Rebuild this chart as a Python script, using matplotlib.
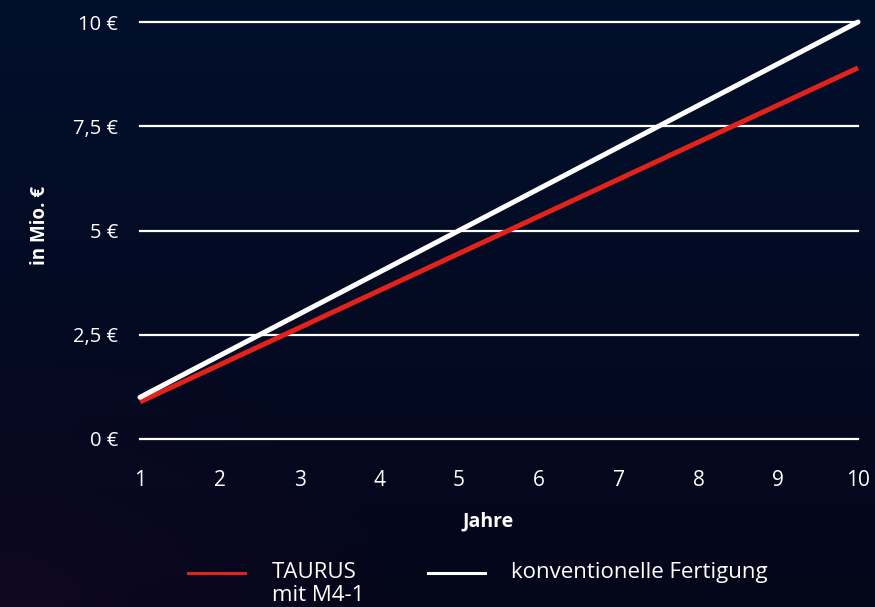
import numpy as np
import matplotlib
matplotlib.use("Agg")
import matplotlib.pyplot as plt
from matplotlib.lines import Line2D

years = [1, 2, 3, 4, 5, 6, 7, 8, 9, 10]
taurus = [0.89, 1.78, 2.67, 3.56, 4.45, 5.34, 6.23, 7.12, 8.01, 8.90]
konventionell = [1, 2, 3, 4, 5, 6, 7, 8, 9, 10]
yticks = [0, 2.5, 5, 7.5, 10]
ytick_labels = ["0 €", "2,5 €", "5 €", "7,5 €", "10 €"]
series_names = ["TAURUS\nmit M4-1", "konventionelle Fertigung"]

plt.rcParams['font.family'] = ['Open Sans', 'DejaVu Sans']

W, H = 875, 607
fig = plt.figure(figsize=(8.75, 6.07), dpi=100)

# background gradient
bg = fig.add_axes([0, 0, 1, 1], zorder=-10)
h, w = 200, 200
yy, xx = np.mgrid[0:1:h*1j, 0:1:w*1j]
top = np.array([2, 16, 44]) / 255
bot = np.array([5, 6, 26]) / 255
img = top[None, None, :] * (1 - yy[..., None]) + bot[None, None, :] * yy[..., None]
purple = np.array([22, 8, 40]) / 255
d = np.clip(1 - np.sqrt((xx) ** 2 + (1 - yy) ** 2) / 0.45, 0, 1)
img = img * (1 - d[..., None] * 0.6) + purple[None, None, :] * d[..., None] * 0.6
bg.imshow(img, aspect='auto', extent=[0, 1, 0, 1], origin='upper')
bg.axis('off')

ax = fig.add_axes([140/W, 1-439/H, 718/W, 417/H])
ax.set_facecolor('none')
ax.set_xlim(1, 10)
ax.set_ylim(0, 10)
for y in yticks:
    ax.axhline(y, color='white', lw=1.6, zorder=1, clip_on=False)
ax.plot(years, taurus, color='#e3221c', lw=3.6, solid_capstyle='butt', zorder=3, clip_on=False)
ax.plot(years, konventionell, color='white', lw=3.6, solid_capstyle='round', zorder=4, clip_on=False)

for s in ax.spines.values():
    s.set_visible(False)
ax.set_xticks(years)
ax.set_xticklabels([str(y) for y in years])
ax.set_yticks(yticks)
ax.set_yticklabels(ytick_labels)
ax.tick_params(length=0, colors='white')
ax.tick_params(axis='x', pad=22, labelsize=15)
ax.tick_params(axis='y', pad=16, labelsize=14.5)

fig.text(40/W, 1-225/H, "in Mio. €", color='white', fontsize=13.5, fontweight='bold',
         rotation=90, ha='center', va='center')
fig.text(488/W, 1-521/H, "Jahre", color='white', fontsize=14, fontweight='bold',
         ha='center', va='center')

# legend
fig.add_artist(Line2D([188/W, 245/W], [1-573/H, 1-573/H], color='#e3221c', lw=2.2))
fig.add_artist(Line2D([428/W, 485/W], [1-573/H, 1-573/H], color='white', lw=2.2))
fig.text(272/W, 1-562/H, series_names[0], color='white', fontsize=16, va='top', ha='left', linespacing=1.15)
fig.text(511/W, 1-562/H, series_names[1], color='white', fontsize=16, va='top', ha='left')

fig.savefig("out.png", dpi=100)
